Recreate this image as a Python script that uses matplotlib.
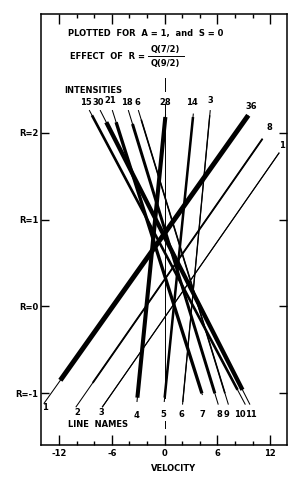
import matplotlib
matplotlib.use("Agg")
import matplotlib.pyplot as plt
import numpy as np

# ---------------- data ----------------
line_names = ["1", "2", "3", "4", "5", "6", "7", "8", "9", "10", "11"]
intensities = [36, 8, 1, 28, 14, 3, 21, 18, 6, 15, 30]
# velocity of each line at R = -1 and at R = 2
v_at_R_minus1 = [-12.9, -9.0, -6.0, -3.05, 0.05, 2.15, 4.23, 5.7, 6.85, 8.49, 9.04]
v_at_R_2 = [8.1, 11.6, 14.6, -0.1, 3.04, 4.94, -5.14, -3.35, -2.21, -7.21, -6.03]
# R extent of each drawn line
R_top_end = [2.2, 1.93, 1.77, 2.21, 2.22, 2.26, 2.26, 2.26, 2.26, 2.26, 2.26]
R_bottom_end = [-1.12, -1.16, -1.16, -1.1, -1.1, -1.13, -1.02, -1.13, -1.13, -1.13, -1.13]
R_ticks = [-1, 0, 1, 2]
v_major_ticks = [-12, -6, 0, 6, 12]

# ---------------- layout (label positions, styles) ----------------
thick_lo = [-0.85, -0.88, -1.16, -1.05, -1.05, -1.1, -1.0, -1.0, -1.0, -0.96, -0.96]
thick_hi = [2.2, 1.93, 1.77, 2.18, 2.18, 2.2, 2.12, 2.1, 2.15, 2.2, 2.12]
top_lab_v = [9.80, 11.95, 13.32, 0.02, 3.09, 5.14, -6.17, -4.30, -3.05, -8.95, -7.53]
top_lab_R = [2.307, 2.054, 1.847, 2.353, 2.342, 2.365, 2.376, 2.353, 2.353, 2.353, 2.353]
bot_lab_v = [-13.61, -9.98, -7.14, -3.16, -0.2, 1.95, 4.34, 6.16, 7.07, 8.55, 9.80]
bot_lab_R = [-1.165, -1.223, -1.223, -1.257, -1.246, -1.246, -1.246, -1.246, -1.246, -1.246, -1.246]

FONT = dict(family="DejaVu Sans", weight="bold", size=6)

fig = plt.figure(figsize=(3.08, 4.87), dpi=100)
ax = fig.add_axes([41 / 308, 1 - 445 / 487, 246 / 308, 431 / 487])
ax.set_xlim(-14.05, 13.9)
ax.set_ylim(-1.595, 3.366)


def v_of(i, R):
    a, b = v_at_R_minus1[i], v_at_R_2[i]
    return a + (b - a) * (np.asarray(R) + 1) / 3.0


for i in range(len(line_names)):
    Rs = np.array([R_bottom_end[i], R_top_end[i]])
    ax.plot(v_of(i, Rs), Rs, color="black", lw=0.75, solid_capstyle="butt")
    Rt = np.array([thick_lo[i], thick_hi[i]])
    lw = 0.7 + 0.08 * intensities[i]
    ax.plot(v_of(i, Rt), Rt, color="black", lw=lw, solid_capstyle="butt")
    ax.text(top_lab_v[i], top_lab_R[i], str(intensities[i]), ha="center", va="center", **FONT)
    ax.text(bot_lab_v[i], bot_lab_R[i], line_names[i], ha="center", va="center", **FONT)

# v = 0 reference marks
for r0, r1 in [(2.475, 2.63), (-1.05, 2.33), (-1.40, -1.32)]:
    ax.plot([0, 0], [r0, r1], color="black", lw=0.7)

# annotations
ax.text(-11.0, 3.136, "PLOTTED  FOR  A = 1,  and  S = 0", ha="left", va="center", **FONT)
ax.text(-10.77, 2.88, "EFFECT  OF  R = ", ha="left", va="center", **FONT)
ax.text(0.08, 2.96, "Q(7/2)", ha="center", va="center", **FONT)
ax.plot([-1.9, 2.2], [2.88, 2.88], color="black", lw=0.7)
ax.text(0.08, 2.80, "Q(9/2)", ha="center", va="center", **FONT)
ax.text(-11.45, 2.486, "INTENSITIES", ha="left", va="center", **FONT)
ax.text(-11.0, -1.364, "LINE  NAMES", ha="left", va="center", **FONT)

# axes styling
for s in ax.spines.values():
    s.set_linewidth(1.1)
ax.set_xticks(v_major_ticks)
ax.set_xticklabels([str(t) for t in v_major_ticks], **FONT)
ax.set_xticks(np.arange(-12, 13, 2), minor=True)
ax.set_yticks(R_ticks)
ax.set_yticklabels(["R=%d" % r for r in R_ticks], **FONT)
ax.tick_params(axis="x", which="major", direction="in", length=7.5, width=1.0,
               top=True, bottom=True, pad=3)
ax.tick_params(axis="x", which="minor", direction="in", length=3.2, width=1.0,
               top=True, bottom=True)
ax.tick_params(axis="y", which="major", direction="in", length=6, width=1.0,
               left=True, right=True, pad=2)
fig.text(174 / 308, 1 - 468.5 / 487, "VELOCITY", ha="center", va="center", **FONT)

fig.savefig("out.png", dpi=100)
